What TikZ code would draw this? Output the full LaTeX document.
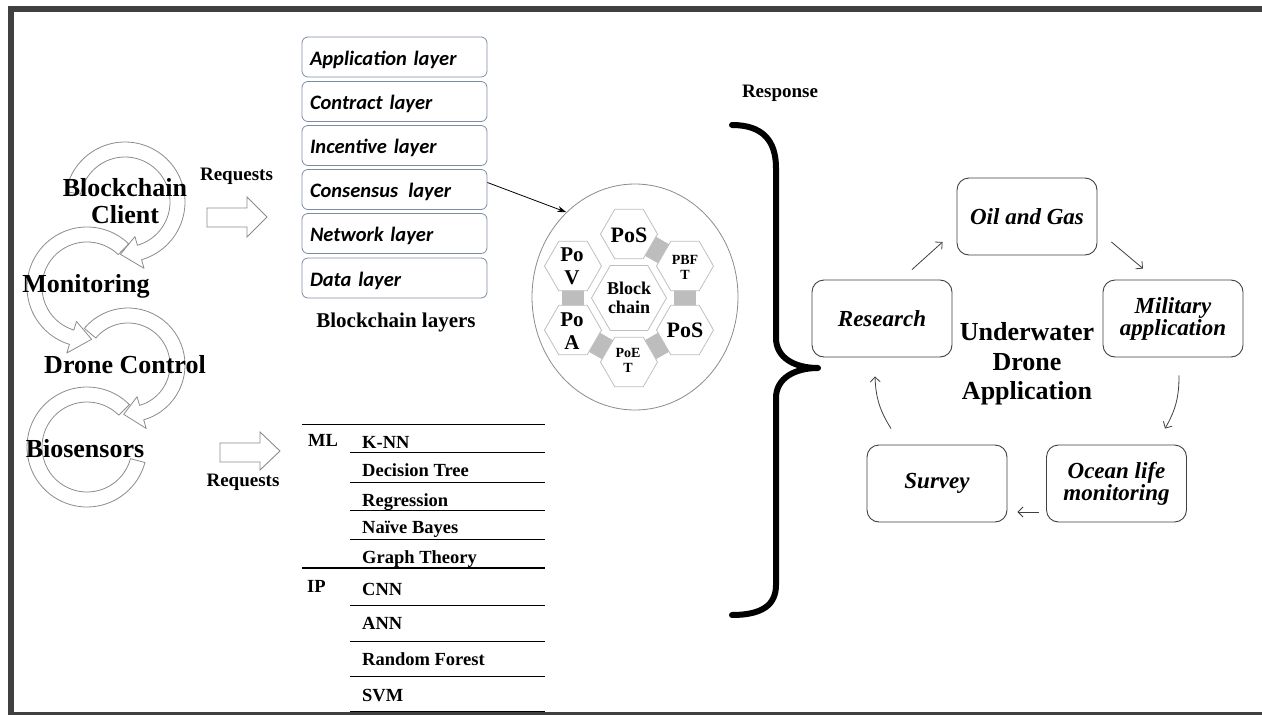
\documentclass[tikz,border=0pt]{standalone}
\usepackage{fontspec}
\setmainfont{Liberation Serif}
\newfontfamily\calfont{Carlito}
\usetikzlibrary{arrows.meta,calc,shapes.geometric}
\definecolor{framegray}{HTML}{404040}
\definecolor{ringgray}{HTML}{8C8C8C}
\definecolor{layerborder}{RGB}{125,140,165}
\definecolor{hexgray}{HTML}{BFBFBF}
\definecolor{conngray}{HTML}{BDBDBD}
\definecolor{boxborder}{HTML}{404040}
\newcommand\setfs[2]{\fontsize{#1}{#2}\selectfont}
% cx cy rin rout t1 t2 delta barb
\newcommand\ringarrow[8]{%
  \filldraw[ringsty] plot[domain=#5:#6,samples=70] ({#1+#4*cos(\x)},{#2+#4*sin(\x)})
   -- ({#1+(#4+#8)*cos(#6)},{#2+(#4+#8)*sin(#6)})
   -- ({#1+0.5*(#3+#4)*cos(#6+#7)},{#2+0.5*(#3+#4)*sin(#6+#7)})
   -- ({#1+(#3-#8)*cos(#6)},{#2+(#3-#8)*sin(#6)})
   -- plot[domain=#6:#5,samples=70] ({#1+#3*cos(\x)},{#2+#3*sin(\x)}) -- cycle;}
\newcommand\hexconn[2]{%
  \fill[conngray] ($(#1)!20pt!(#2)!11pt!90:(#2)$) -- ($(#1)!20pt!(#2)!11pt!-90:(#2)$)
    -- ($(#2)!20pt!(#1)!11pt!90:(#1)$) -- ($(#2)!20pt!(#1)!11pt!-90:(#1)$) -- cycle;}
\begin{document}
\begin{tikzpicture}[x=1pt,y=-1pt,
  ringsty/.style={draw=ringgray, fill=white, line width=0.8pt, line join=round},
  blockarrow/.style={draw=ringgray, fill=white, line width=0.9pt},
  bigtxt/.style={font=\bfseries\setfs{26}{28}, inner sep=0pt, anchor=base},
  reqtxt/.style={font=\bfseries\setfs{19}{21}, inner sep=0pt, anchor=base},
  layerbox/.style={draw=layerborder, rounded corners=6pt, line width=0.8pt, minimum height=40pt,
     text width=169pt, inner xsep=8pt, inner ysep=0pt, align=left, text height=16pt, text depth=0pt,
     font=\calfont\bfseries\itshape\setfs{20.5}{22}},
  hexbox/.style={regular polygon, regular polygon sides=6, draw=hexgray, fill=white, line width=0.8pt, inner sep=0pt},
  hexlbl/.style={align=center, inner sep=0pt},
  tabtxt/.style={anchor=base west, font=\bfseries\setfs{18.5}{20}, inner sep=0pt},
  rule/.style={line width=0.9pt},
  appbox/.style={draw=boxborder, rounded corners=12pt, line width=0.9pt, minimum width=140pt,
     minimum height=77pt, align=center, font=\bfseries\itshape\setfs{23}{22}, inner sep=2pt},
  cyc/.style={-{Straight Barb[length=5pt,width=10pt]}, draw=framegray, line width=0.8pt}]
\useasboundingbox (0,0) rectangle (1262,715);
\fill[white] (0,0) rectangle (1262,715);
% frame
\fill[framegray] (8,6) rectangle (1262,12);
\fill[framegray] (8,6) rectangle (14,715);
\fill[framegray] (14,712) rectangle (1262,715);

% circular arrows (left)
\ringarrow{87}{447}{45}{60}{315}{15}{0}{0}
\ringarrow{128}{365}{42}{57}{220}{434}{21}{9}
\ringarrow{87}{287}{45}{60}{314}{107}{-22}{9}
\ringarrow{125}{202}{45}{60}{190}{434}{21}{9}

\node[bigtxt] (bcl) at (125,196.7) {Blockchain};
\node[bigtxt] (cli) at (125,223) {Client};
\node[bigtxt] (mon) at (86,292) {Monitoring};
\node[bigtxt] (drc) at (125,373) {Drone Control};
\node[bigtxt] (bio) at (85,457) {Biosensors};

% requests arrows
\node[reqtxt] (req1) at (236.5,180) {Requests};
\draw[blockarrow] (207,208) -- (247,208) -- (247,197) -- (267,217) -- (247,237) -- (247,227) -- (207,227) -- cycle;
\node[reqtxt] (req2) at (243,486.5) {Requests};
\draw[blockarrow] (220,443) -- (260,443) -- (260,432) -- (280,451) -- (260,470) -- (260,462) -- (220,462) -- cycle;

% blockchain layers
\node[layerbox] (lApp) at (394.5,57) {Application layer};
\node[layerbox] (lCon) at (394.5,101.5) {Contract layer};
\node[layerbox] (lInc) at (394.5,145.5) {Incentive layer};
\node[layerbox] (lCns) at (394.5,189.5) {Consensus\, layer};
\node[layerbox] (lNet) at (394.5,233.5) {Network layer};
\node[layerbox] (lDat) at (394.5,278) {Data layer};
\node[font=\bfseries\setfs{21}{23}, inner sep=0pt, anchor=base] (blt) at (396,327) {Blockchain layers};

% consensus cluster
\node[ellipse, draw=ringgray, line width=0.8pt, minimum width=206pt, minimum height=226pt] (bc) at (635,297) {};
\draw[-{Stealth[length=9pt,width=6pt]}, line width=0.8pt] ([yshift=7pt]lCns.east) -- (bc.129);
\coordinate (hC) at (629,298);
\coordinate (hT) at (629,234);
\coordinate (hUR) at (685,266);
\coordinate (hLR) at (685,330);
\coordinate (hB) at (629,362);
\coordinate (hLL) at (573,330);
\coordinate (hUL) at (573,266);
\hexconn{hT}{hUR}
\hexconn{hUR}{hLR}
\hexconn{hLR}{hB}
\hexconn{hB}{hLL}
\hexconn{hLL}{hUL}
\node[hexbox, minimum size=75pt] (xC) at (hC) {};
\node[hexbox, minimum size=57pt] (xT) at (hT) {};
\node[hexbox, minimum size=57pt] (xUR) at (hUR) {};
\node[hexbox, minimum size=57pt] (xLR) at (hLR) {};
\node[hexbox, minimum size=57pt] (xB) at (hB) {};
\node[hexbox, minimum size=57pt] (xLL) at (hLL) {};
\node[hexbox, minimum size=57pt] (xUL) at (hUL) {};
\node[hexlbl, font=\bfseries\setfs{18}{19}] (tC) at (629,297.5) {Block\\chain};
\node[hexlbl, font=\bfseries\setfs{22}{23}] (tT) at (629,235) {PoS};
\node[hexlbl, font=\bfseries\setfs{14}{15}] (tUR) at (685,267.5) {PBF\\T};
\node[hexlbl, font=\bfseries\setfs{22}{23}] (tLR) at (685,330) {PoS};
\node[hexlbl, font=\bfseries\setfs{14}{15}] (tB) at (628,360.5) {PoE\\T};
\node[hexlbl, font=\bfseries\setfs{21}{23}] (tLL) at (572,331) {Po\\A};
\node[hexlbl, font=\bfseries\setfs{21}{23}] (tUL) at (572,266.5) {Po\\V};

% ML / IP table
\draw[rule] (302,424) -- (545,424);
\foreach \yy in {452,482,510,539,605,641,676,711} {\draw[rule] (350,\yy) -- (545,\yy);}
\draw[line width=1.8pt] (302,568) -- (545,568);
\node[tabtxt] (tML) at (308,446.7) {ML};
\node[tabtxt] (tIP) at (307,592.7) {IP};
\node[tabtxt] (k1) at (362,448.3) {K-NN};
\node[tabtxt] (k2) at (362,476.7) {Decision Tree};
\node[tabtxt] (k3) at (362,506) {Regression};
\node[tabtxt] (k4) at (362,533.3) {Naïve Bayes};
\node[tabtxt] (k5) at (362,563) {Graph Theory};
\node[tabtxt] (k6) at (362,595) {CNN};
\node[tabtxt] (k7) at (362,629) {ANN};
\node[tabtxt] (k8) at (362,665) {Random Forest};
\node[tabtxt] (k9) at (362,701.7) {SVM};

% brace and response
\node[reqtxt] (resp) at (780,97.6) {Response};
\draw[line width=6pt, line cap=round, line join=round] (732,125) .. controls (762,125) and (776,140) .. (776,168) -- (776,338) .. controls (776,358) and (795,368) .. (818,368) .. controls (795,368) and (776,378) .. (776,398) -- (776,585) .. controls (776,605) and (762,615) .. (732,615);

% application cycle
\node[appbox] (oil) at (1027,216.5) {Oil and Gas};
\node[appbox] (res) at (882,318.5) {Research};
\node[appbox] (mil) at (1173,318.5) {Military\\application};
\node[appbox] (sur) at (937,483.5) {Survey};
\node[appbox] (oce) at (1116.5,483.5) {Ocean life\\monitoring};
\node[font=\bfseries\setfs{26}{29.7}, align=center, inner sep=0pt] (uda) at (1027,364) {Underwater\\Drone\\Application};
\draw[cyc] ($(res.north)+(30,-10)$) -- ($(oil.west)+(-14,25.5)$);
\draw[cyc] ($(oil.east)+(14,25.5)$) -- ($(mil.north)+(-30,-11)$);
\draw[cyc] ($(mil.south)+(6,18)$) to[bend left=15] ($(oce.north)+(48.5,-16)$);
\draw[cyc] ($(oce.west)+(-7.5,28.5)$) -- ($(sur.east)+(10,28.5)$);
\draw[cyc] ($(sur.north)+(-46,-16)$) to[bend left=15] ($(res.south)+(-7,19)$);
\end{tikzpicture}
\end{document}
